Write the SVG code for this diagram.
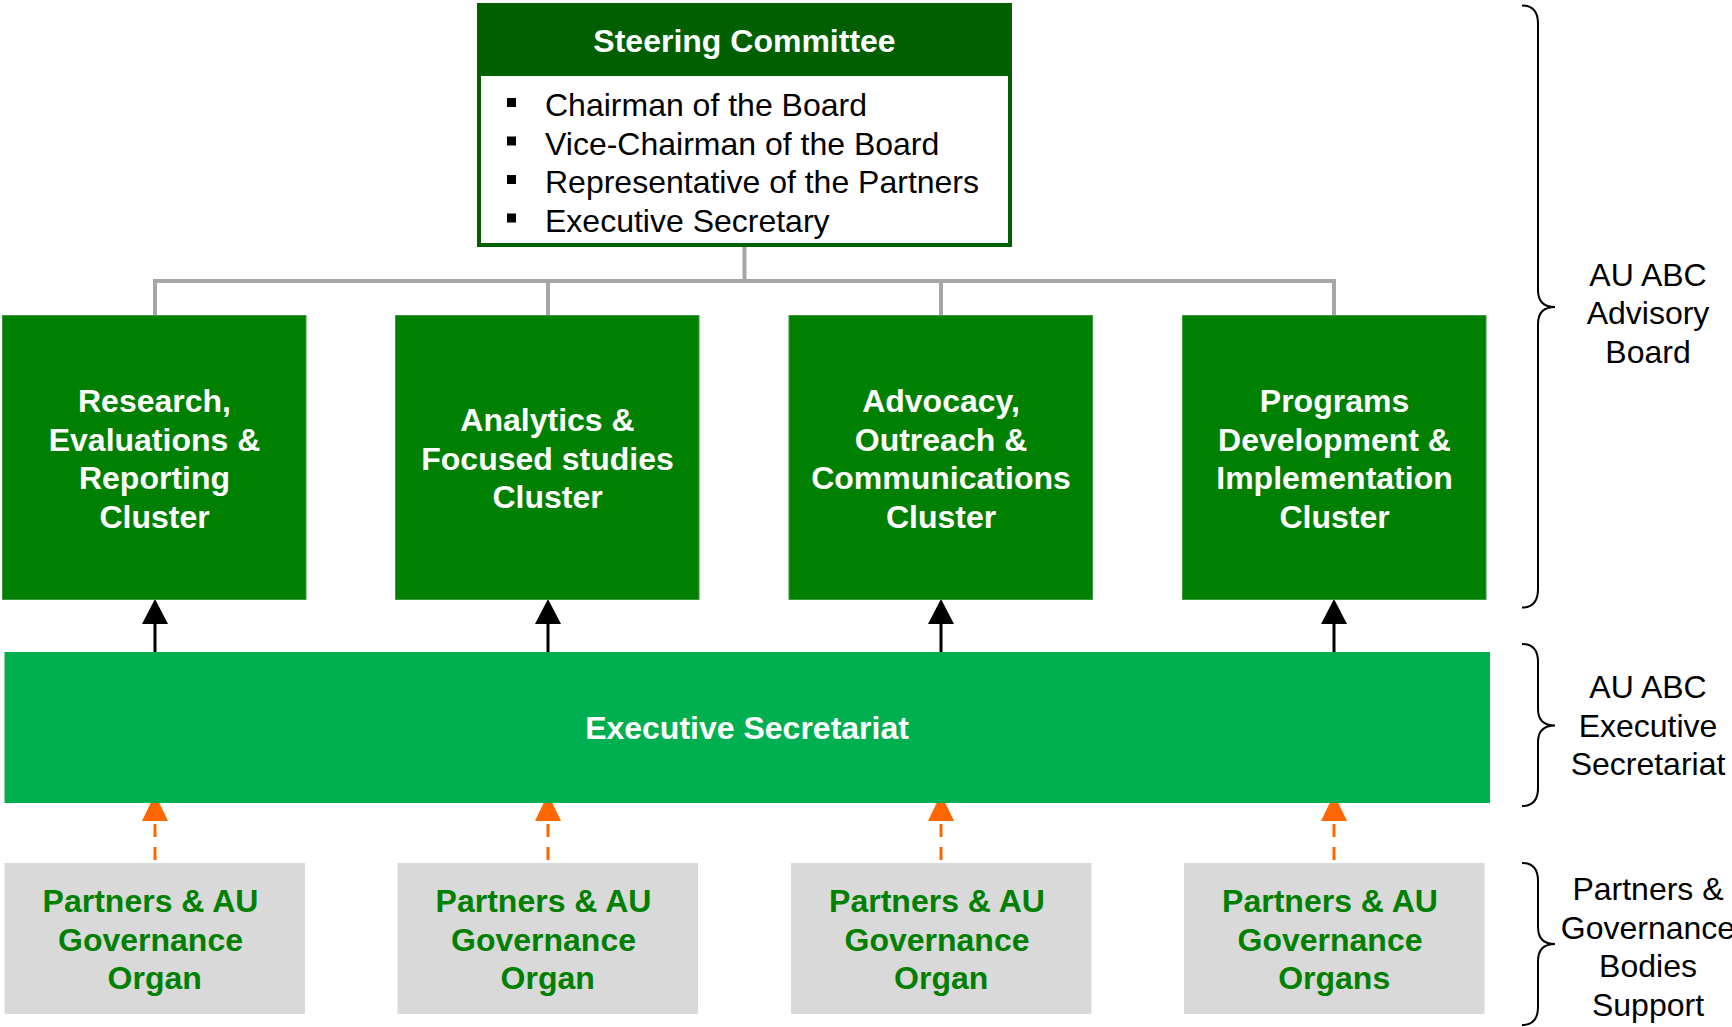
<svg xmlns="http://www.w3.org/2000/svg" width="1732" height="1027" viewBox="0 0 1732 1027">
<style>
text{font-family:"Liberation Sans",Arial,sans-serif;font-size:32px}
.b{font-weight:bold}
.w{fill:#ffffff}
.g{fill:#008000}
.k{fill:#000000}
.mid{text-anchor:middle}
.cluster{fill:#008000;stroke:#3d9a3d;stroke-width:1}
.partner{fill:#d9d9d9}
.tree{fill:none;stroke:#a6a6a6;stroke-width:4}
.solid{stroke:#000000;stroke-width:3;fill:none}
.dash{stroke:#ff6600;stroke-width:3;fill:none;stroke-dasharray:13 10}
.bh{fill:#000000}
.oh{fill:#ff6600}
.brace{fill:none;stroke:#000000;stroke-width:2}
</style>

<g id="connectors">
<path class="tree" d="M744.5,245 V281 M155,281 H1334 M155,279 V315 M548,279 V315 M941,279 V315 M1334,279 V315"/>
<line class="solid" x1="155" y1="652" x2="155" y2="620"/>
<path class="bh" d="M142,624 L155,599 L168,624 Z"/>
<line class="solid" x1="548" y1="652" x2="548" y2="620"/>
<path class="bh" d="M535,624 L548,599 L561,624 Z"/>
<line class="solid" x1="941" y1="652" x2="941" y2="620"/>
<path class="bh" d="M928,624 L941,599 L954,624 Z"/>
<line class="solid" x1="1334" y1="652" x2="1334" y2="620"/>
<path class="bh" d="M1321,624 L1334,599 L1347,624 Z"/>
<line class="dash" x1="155" y1="860" x2="155" y2="823"/>
<path class="oh" d="M142,821 L155,794 L168,821 Z"/>
<line class="dash" x1="548" y1="860" x2="548" y2="823"/>
<path class="oh" d="M535,821 L548,794 L561,821 Z"/>
<line class="dash" x1="941" y1="860" x2="941" y2="823"/>
<path class="oh" d="M928,821 L941,794 L954,821 Z"/>
<line class="dash" x1="1334" y1="860" x2="1334" y2="823"/>
<path class="oh" d="M1321,821 L1334,794 L1347,821 Z"/>
</g>

<g id="steering-committee">
<rect x="479" y="5" width="531" height="240" fill="#ffffff" stroke="#006000" stroke-width="4"/>
<rect x="477" y="3" width="535" height="73" fill="#006000"/>
<text class="b w mid" x="744.5" y="52">Steering Committee</text>
<rect x="507" y="98" width="9" height="9" fill="#000"/>
<rect x="507" y="136.5" width="9" height="9" fill="#000"/>
<rect x="507" y="175" width="9" height="9" fill="#000"/>
<rect x="507" y="213.5" width="9" height="9" fill="#000"/>
<text class="k" x="545" y="116">Chairman of the Board</text>
<text class="k" x="545" y="154.5">Vice-Chairman of the Board</text>
<text class="k" x="545" y="193">Representative of the Partners</text>
<text class="k" x="545" y="231.5">Executive Secretary</text>
</g>

<g id="cluster-research">
<rect class="cluster" x="2.5" y="315.5" width="303.5" height="284"/>
<text class="b w mid" x="154.5"><tspan x="154.5" y="412">Research,</tspan><tspan x="154.5" y="450.5">Evaluations &amp;</tspan><tspan x="154.5" y="489">Reporting</tspan><tspan x="154.5" y="527.5">Cluster</tspan></text>
</g>
<g id="cluster-analytics">
<rect class="cluster" x="395.5" y="315.5" width="303.5" height="284"/>
<text class="b w mid" x="547.5"><tspan x="547.5" y="431">Analytics &amp;</tspan><tspan x="547.5" y="469.5">Focused studies</tspan><tspan x="547.5" y="508">Cluster</tspan></text>
</g>
<g id="cluster-advocacy">
<rect class="cluster" x="789" y="315.5" width="303.5" height="284"/>
<text class="b w mid" x="941"><tspan x="941" y="412">Advocacy,</tspan><tspan x="941" y="450.5">Outreach &amp;</tspan><tspan x="941" y="489">Communications</tspan><tspan x="941" y="527.5">Cluster</tspan></text>
</g>
<g id="cluster-programs">
<rect class="cluster" x="1182.5" y="315.5" width="303.5" height="284"/>
<text class="b w mid" x="1334.5"><tspan x="1334.5" y="412">Programs</tspan><tspan x="1334.5" y="450.5">Development &amp;</tspan><tspan x="1334.5" y="489">Implementation</tspan><tspan x="1334.5" y="527.5">Cluster</tspan></text>
</g>

<g id="executive-secretariat">
<rect x="4.5" y="652" width="1485.5" height="151" fill="#00b050"/>
<text class="b w mid" x="747" y="739">Executive Secretariat</text>
</g>

<g id="partner-1">
<rect class="partner" x="4.5" y="863" width="300.5" height="151"/>
<text class="b g mid"><tspan x="150.5" y="912">Partners &amp; AU</tspan><tspan x="150.5" y="950.5">Governance</tspan><tspan x="154.7" y="989">Organ</tspan></text>
</g>
<g id="partner-2">
<rect class="partner" x="397.5" y="863" width="300.5" height="151"/>
<text class="b g mid"><tspan x="543.5" y="912">Partners &amp; AU</tspan><tspan x="543.5" y="950.5">Governance</tspan><tspan x="547.7" y="989">Organ</tspan></text>
</g>
<g id="partner-3">
<rect class="partner" x="791" y="863" width="300.5" height="151"/>
<text class="b g mid"><tspan x="937" y="912">Partners &amp; AU</tspan><tspan x="937" y="950.5">Governance</tspan><tspan x="941.2" y="989">Organ</tspan></text>
</g>
<g id="partner-4">
<rect class="partner" x="1184" y="863" width="300.5" height="151"/>
<text class="b g mid"><tspan x="1330" y="912">Partners &amp; AU</tspan><tspan x="1330" y="950.5">Governance</tspan><tspan x="1334.2" y="989">Organs</tspan></text>
</g>

<g id="label-advisory-board">
<path class="brace" d="M1522,5.5 Q1538,5.5 1538,24 L1538,290 Q1538,307 1555,307 Q1538,307 1538,324 L1538,589 Q1538,607.5 1522,607.5"/>
<text class="k mid"><tspan x="1648" y="285.5">AU ABC</tspan><tspan x="1648" y="324">Advisory</tspan><tspan x="1648" y="362.5">Board</tspan></text>
</g>
<g id="label-executive-secretariat">
<path class="brace" d="M1522,644 Q1538,644 1538,662 L1538,709 Q1538,725.5 1555,725.5 Q1538,725.5 1538,742 L1538,788 Q1538,806 1522,806"/>
<text class="k mid"><tspan x="1648" y="698">AU ABC</tspan><tspan x="1648" y="736.5">Executive</tspan><tspan x="1648" y="775">Secretariat</tspan></text>
</g>
<g id="label-partners">
<path class="brace" d="M1522,863 Q1538,863 1538,881 L1538,927 Q1538,944 1555,944 Q1538,944 1538,961 L1538,1007 Q1538,1025 1522,1025"/>
<text class="k mid"><tspan x="1648" y="900">Partners &amp;</tspan><tspan x="1648" y="938.5">Governance</tspan><tspan x="1648" y="977">Bodies</tspan><tspan x="1648" y="1015.5">Support</tspan></text>
</g>
</svg>
